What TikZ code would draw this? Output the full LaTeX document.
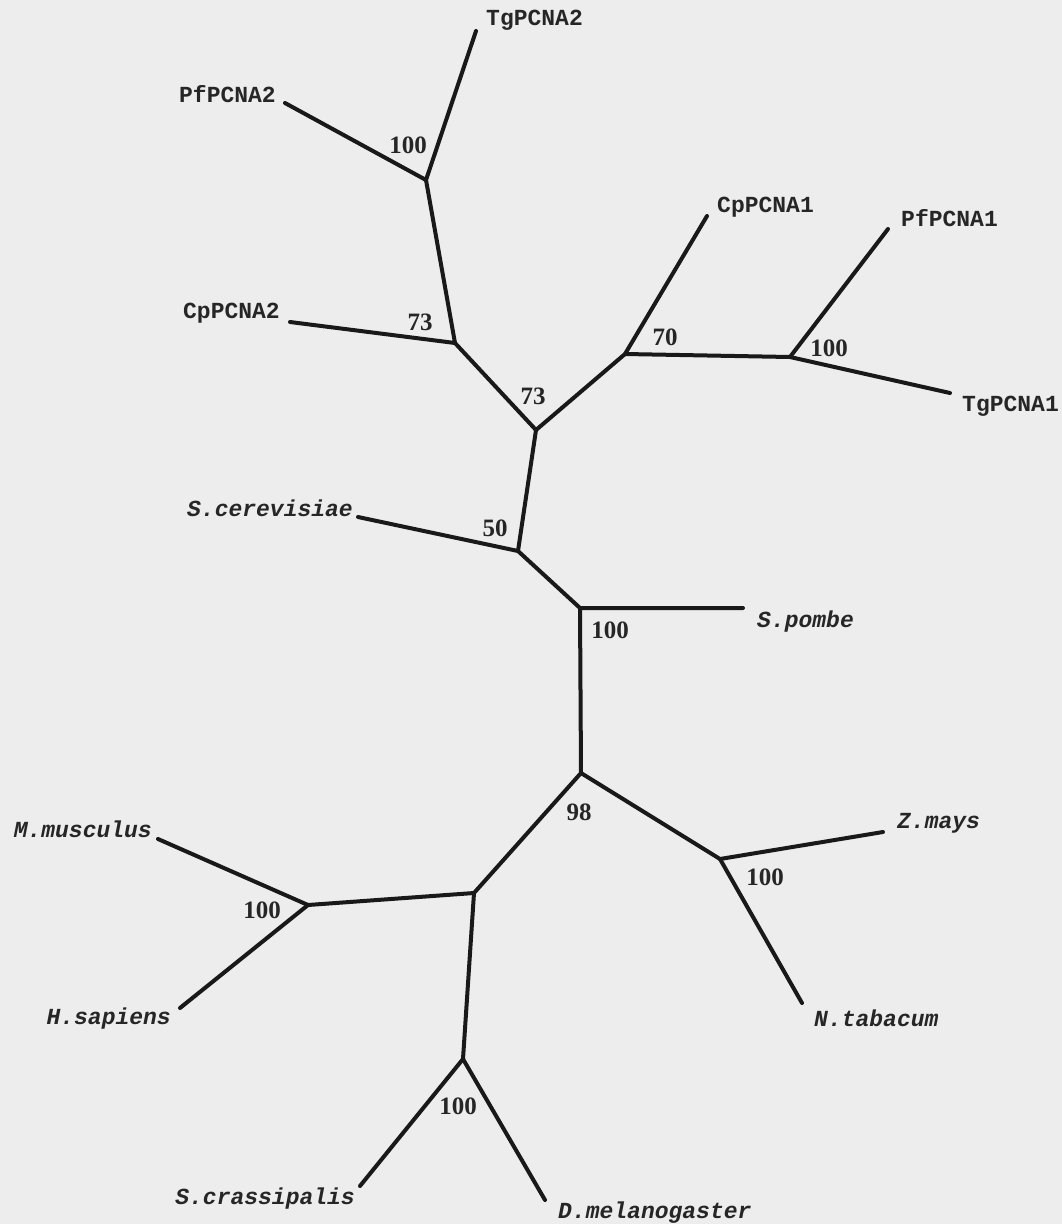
\documentclass[tikz,border=0pt]{standalone}
\usepackage{fontspec}
\setmainfont{Liberation Serif}
\newfontfamily\monofnt{Liberation Mono}
\begin{document}
\begin{tikzpicture}[x=1pt,y=-1pt,
  branch/.style={line width=4pt, color=black!90, line cap=round, line join=round},
  taxon/.style={font=\monofnt\bfseries\fontsize{23}{25}\selectfont, inner sep=0pt, text=black!85},
  species/.style={font=\monofnt\bfseries\itshape\fontsize{23}{25}\selectfont, inner sep=0pt, text=black!85},
  boot/.style={font=\bfseries\fontsize{25}{27}\selectfont, inner sep=0pt, text=black!85}]
\definecolor{paper}{HTML}{EDEDED}
\fill[paper] (0,0) rectangle (1062,1224);
\useasboundingbox (0,0) rectangle (1062,1224);
% internal nodes
\coordinate (A) at (426,180);
\coordinate (B) at (455,343);
\coordinate (C) at (536,430);
\coordinate (D) at (625,354);
\coordinate (E) at (790,357);
\coordinate (F) at (518,551);
\coordinate (G) at (580,608);
\coordinate (H) at (581,773);
\coordinate (I) at (720,859);
\coordinate (J) at (474,893);
\coordinate (K) at (308,905);
\coordinate (L) at (463,1059);
% tips
\coordinate (tTg2) at (476,31);
\coordinate (tPf2) at (285,103);
\coordinate (tCp2) at (290,322);
\coordinate (tCp1) at (707,216);
\coordinate (tPf1) at (888,229);
\coordinate (tTg1) at (950,393);
\coordinate (tSc) at (358,517);
\coordinate (tSp) at (743,608);
\coordinate (tZm) at (883,832);
\coordinate (tNt) at (802,1003);
\coordinate (tMm) at (158,839);
\coordinate (tHs) at (180,1008);
\coordinate (tScr) at (360,1186);
\coordinate (tDm) at (545,1200);
% branches
\draw[branch] (tTg2) -- (A) -- (tPf2);
\draw[branch] (A) -- (B) -- (tCp2);
\draw[branch] (B) -- (C) -- (D) -- (tCp1);
\draw[branch] (D) -- (E) -- (tPf1);
\draw[branch] (E) -- (tTg1);
\draw[branch] (C) -- (F) -- (tSc);
\draw[branch] (F) -- (G) -- (tSp);
\draw[branch] (G) -- (H) -- (I) -- (tZm);
\draw[branch] (I) -- (tNt);
\draw[branch] (H) -- (J) -- (K) -- (tMm);
\draw[branch] (K) -- (tHs);
\draw[branch] (J) -- (L) -- (tScr);
\draw[branch] (L) -- (tDm);
% taxon labels
\node[taxon, anchor=west] (nTg2) at (486,20) {TgPCNA2};
\node[taxon, anchor=east] (nPf2) at (276,94) {PfPCNA2};
\node[taxon, anchor=east] (nCp2) at (280,313) {CpPCNA2};
\node[taxon, anchor=west] (nCp1) at (717,207) {CpPCNA1};
\node[taxon, anchor=west] (nPf1) at (901,218) {PfPCNA1};
\node[taxon, anchor=west] (nTg1) at (962,406) {TgPCNA1};
\node[species, anchor=east] (nSc) at (353,508) {S.cerevisiae};
\node[species, anchor=west] (nSp) at (757,622) {S.pombe};
\node[species, anchor=west] (nZm) at (897,823) {Z.mays};
\node[species, anchor=west] (nNt) at (814,1018) {N.tabacum};
\node[species, anchor=east] (nMm) at (152,829) {M.musculus};
\node[species, anchor=east] (nHs) at (171,1019) {H.sapiens};
\node[species, anchor=east] (nScr) at (355,1199) {S.crassipalis};
\node[species, anchor=west] (nDm) at (558,1213) {D.melanogaster};
% bootstrap values
\node[boot] (bA) at (408,145) {100};
\node[boot] (bB) at (420,322) {73};
\node[boot] (bC) at (533,396) {73};
\node[boot] (bD) at (665,337) {70};
\node[boot] (bE) at (829,348) {100};
\node[boot] (bF) at (495,528) {50};
\node[boot] (bG) at (610,630) {100};
\node[boot] (bH) at (579,812) {98};
\node[boot] (bI) at (765,877) {100};
\node[boot] (bK) at (262,910) {100};
\node[boot] (bL) at (458,1106) {100};
\end{tikzpicture}
\end{document}
